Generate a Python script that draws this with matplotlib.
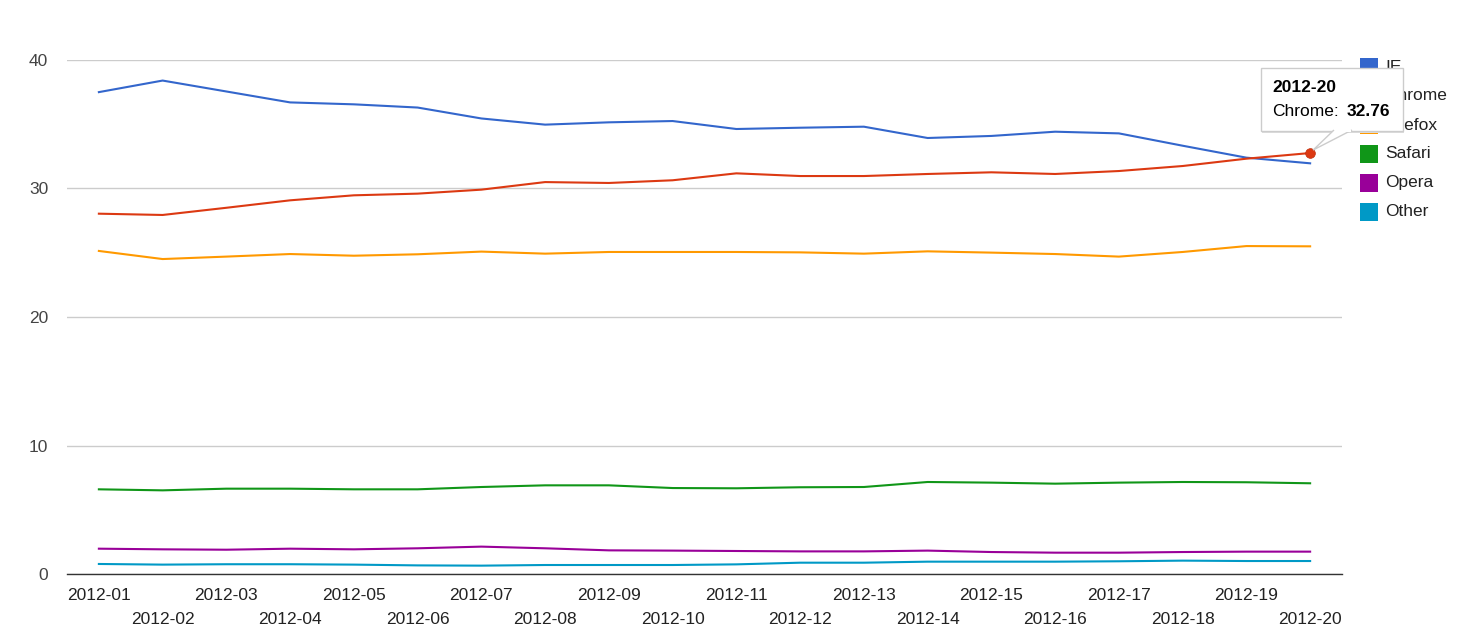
import matplotlib
matplotlib.use('Agg')
import matplotlib.pyplot as plt
from matplotlib.patches import Rectangle, Polygon
import numpy as np

plt.rcParams['font.family'] = ['Liberation Sans', 'DejaVu Sans']

weeks = ['2012-%02d' % i for i in range(1, 21)]
browsers = ['IE', 'Chrome', 'Firefox', 'Safari', 'Opera', 'Other']
colors = ['#3366cc', '#dc3912', '#ff9900', '#109618', '#990099', '#0099c6']

ie = [37.50, 38.40, 37.55, 36.70, 36.55, 36.30, 35.45, 34.97, 35.15, 35.25,
      34.63, 34.73, 34.81, 33.93, 34.09, 34.42, 34.29, 33.33, 32.40, 31.96]
chrome = [28.04, 27.94, 28.50, 29.08, 29.47, 29.60, 29.91, 30.50, 30.43, 30.64,
          31.18, 30.97, 30.97, 31.13, 31.26, 31.13, 31.36, 31.75, 32.32, 32.76]
firefox = [25.14, 24.51, 24.70, 24.90, 24.77, 24.88, 25.09, 24.93, 25.06, 25.06,
           25.06, 25.03, 24.93, 25.11, 25.01, 24.90, 24.70, 25.06, 25.52, 25.50]
safari = [6.59, 6.51, 6.64, 6.64, 6.59, 6.59, 6.77, 6.90, 6.90, 6.69,
          6.67, 6.75, 6.77, 7.16, 7.11, 7.03, 7.11, 7.16, 7.14, 7.06]
opera = [1.97, 1.92, 1.89, 1.97, 1.92, 2.00, 2.13, 2.00, 1.84, 1.82,
         1.79, 1.76, 1.76, 1.82, 1.71, 1.66, 1.66, 1.71, 1.74, 1.74]
other = [0.78, 0.73, 0.76, 0.76, 0.73, 0.67, 0.65, 0.70, 0.70, 0.70,
         0.75, 0.88, 0.88, 0.96, 0.96, 0.96, 0.99, 1.04, 1.01, 1.01]
series = [ie, chrome, firefox, safari, opera, other]

W, H = 1471, 643
FS = 12.5


def px(x, y):
    return x / W, 1 - y / H


fig = plt.figure(figsize=(W / 100, H / 100), dpi=100)
ax = fig.add_axes([67 / W, 1 - 574 / H, (1342 - 67) / W, (574 - 60) / H])

x = np.arange(len(weeks))
for vals, c in zip(series, colors):
    ax.plot(x, vals, color=c, lw=1.5, solid_joinstyle='round', zorder=3)

ax.set_xlim(-0.5, len(weeks) - 0.5)
ax.set_ylim(0, 40)
ax.set_yticks([0, 10, 20, 30, 40])
ax.grid(axis='y', color='#cccccc', lw=1)
ax.set_axisbelow(True)
for s in ['left', 'right', 'top']:
    ax.spines[s].set_visible(False)
ax.spines['bottom'].set_color('#333333')
ax.spines['bottom'].set_linewidth(1)
ax.spines['bottom'].set_zorder(2)

ax.tick_params(axis='y', length=0, pad=13.5, labelsize=FS, labelcolor='#444444')

# alternating two-row category labels
ax.set_xticks(x[0::2])
ax.set_xticklabels(weeks[0::2])
ax.set_xticks(x[1::2], minor=True)
ax.set_xticklabels(weeks[1::2], minor=True)
ax.tick_params(axis='x', which='major', length=0, pad=10, labelsize=FS, labelcolor='#222222')
ax.tick_params(axis='x', which='minor', length=0, pad=27, labelsize=FS, labelcolor='#222222')

# legend
for i, (name, c) in enumerate(zip(browsers, colors)):
    yc = 67 + i * 29
    fig.patches.append(Rectangle(px(1360, yc + 9), 18 / W, 18 / H, transform=fig.transFigure,
                                 facecolor=c, edgecolor='none', zorder=5))
    fig.text(*px(1385, yc), name, fontsize=FS, color='#222222', va='center', ha='left', zorder=5)

# highlighted point + tooltip
last = len(weeks) - 1
ax.plot(x[last], chrome[last], 'o', color=colors[1], ms=7, mec='#c0300e', mew=0.5, zorder=4, clip_on=False)
tip = fig.transFigure.inverted().transform(ax.transData.transform((x[last], chrome[last])))

bx0, by0, bx1, by1 = 1261, 68, 1403, 131
fig.patches.append(Rectangle(px(bx0 + 1, by1 + 2), (bx1 - bx0) / W, (by1 - by0) / H,
                             transform=fig.transFigure, facecolor='#dddddd', edgecolor='none', zorder=9))
fig.patches.append(Rectangle(px(bx0, by1), (bx1 - bx0) / W, (by1 - by0) / H,
                             transform=fig.transFigure, facecolor='white', edgecolor='#cccccc',
                             lw=1, zorder=10))
tail = Polygon([px(1334, by1 - 1), (tip[0] + 3 / W, tip[1] + 3 / H), px(1352, by1 - 1)],
               closed=False, transform=fig.transFigure, facecolor='white', edgecolor='#cccccc',
               lw=1, zorder=11)
fig.patches.append(tail)
fig.patches.append(Rectangle(px(1335, by1 + 0.5), 16 / W, 2 / H, transform=fig.transFigure,
                             facecolor='white', edgecolor='none', zorder=12))
fig.text(*px(1272, 87), weeks[last], fontsize=FS, fontweight='bold', color='black',
         va='center', ha='left', zorder=13)
fig.text(*px(1272, 111), browsers[1] + ':', fontsize=FS, color='black',
         va='center', ha='left', zorder=13)
fig.text(*px(1347, 111), '%.2f' % chrome[last], fontsize=FS, fontweight='bold', color='black',
         va='center', ha='left', zorder=13)

fig.savefig('out.png', dpi=100)
